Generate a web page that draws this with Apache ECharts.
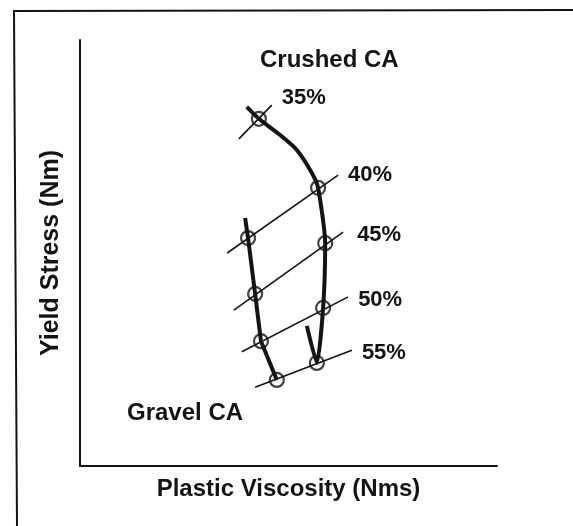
<!DOCTYPE html>
<html>
<head>
<meta charset="utf-8">
<script src="https://cdn.jsdelivr.net/npm/echarts@6/dist/echarts.min.js"></script>
<style>
  html, body { margin: 0; padding: 0; background: #fff; }
  #chart { width: 573px; height: 526px; }
</style>
</head>
<body>
<div id="chart"></div>
<script>
// values (arbitrary units, axes run 0..100)
const crushedLine = [[40.0, 84.3], [42.9, 81.5], [48.0, 77.7], [52.0, 74.2], [55.6, 68.8], [57.1, 65.3], [58.8, 52.3], [58.3, 37.1], [56.8, 24.2], [54.4, 32.9]];
const crushedPts = [[42.9, 81.5], [57.1, 65.3], [58.8, 52.3], [58.3, 37.1], [56.8, 24.2]];
const gravelLine = [[39.6, 58.2], [40.3, 53.5], [42.0, 40.4], [43.4, 29.3], [47.2, 20.2]];
const gravelPts = [[40.3, 53.5], [42.0, 40.4], [43.4, 29.3], [47.2, 20.2]];

const isoLabels = ['35%', '40%', '45%', '50%', '55%'];
const isoStart = [[38.1, 76.8], [35.3, 50.0], [36.9, 36.6], [38.8, 26.8], [42.0, 18.5]];
const isoEnd = [[46.0, 84.7], [61.9, 68.3], [63.1, 54.9], [64.3, 39.7], [65.2, 27.2]];

const labelOffsets = [[0, -7], [0, 0], [4, 3], [0, 3], [0, 3]];

const ink = '#141414';
const font = 'Arial, "Liberation Sans", Helvetica, sans-serif';

let chart = echarts.init(document.getElementById('chart'));

let series = [];

// thin lines of equal sand content, label at the upper end
for (let i = 0; i < isoLabels.length; i++) {
    series.push({
        type: 'line',
        silent: true,
        z: 2,
        symbol: 'none',
        lineStyle: { color: ink, width: 1.6 },
        endLabel: {
            show: true,
            formatter: isoLabels[i],
            distance: 10,
            offset: labelOffsets[i],
            color: ink,
            fontFamily: font,
            fontWeight: 'bold',
            fontSize: 22
        },
        data: [isoStart[i], isoEnd[i]]
    });
}

// thick curves
series.push({
    type: 'line',
    z: 3,
    symbol: 'none',
    smooth: 0.2,
    lineStyle: { color: ink, width: 4 },
    data: crushedLine
});
series.push({
    type: 'line',
    z: 3,
    symbol: 'none',
    lineStyle: { color: ink, width: 4 },
    data: gravelLine
});

// circle markers
[crushedPts, gravelPts].forEach(function (pts) {
    series.push({
        type: 'scatter',
        z: 4,
        symbol: 'circle',
        symbolSize: 14,
        itemStyle: { color: 'rgba(255,255,255,0)', borderColor: ink, borderWidth: 2.2 },
        data: pts
    });
});

let option = {
    backgroundColor: '#fff',
    animation: false,
    grid: { left: 80, right: 76, top: 40, bottom: 60 },
    xAxis: {
        type: 'value',
        min: 0,
        max: 100,
        name: 'Plastic Viscosity (Nms)',
        nameLocation: 'middle',
        nameGap: 11,
        nameTextStyle: { color: ink, fontFamily: font, fontWeight: 'bold', fontSize: 24, verticalAlign: 'top' },
        axisLine: { show: true, lineStyle: { color: ink, width: 2 } },
        axisTick: { show: false },
        axisLabel: { show: false },
        splitLine: { show: false }
    },
    yAxis: {
        type: 'value',
        min: 0,
        max: 100,
        name: 'Yield Stress (Nm)',
        nameLocation: 'middle',
        nameGap: 16,
        nameTextStyle: { color: ink, fontFamily: font, fontWeight: 'bold', fontSize: 25 },
        axisLine: { show: true, lineStyle: { color: ink, width: 2 } },
        axisTick: { show: false },
        axisLabel: { show: false },
        splitLine: { show: false }
    },
    graphic: [
        {
            type: 'polyline',
            shape: { points: [[17, 526], [14, 11], [573, 10]] },
            style: { stroke: ink, lineWidth: 2, fill: null }
        },
        {
            type: 'text',
            x: 260, y: 60,
            style: { text: 'Crushed CA', fill: ink, font: 'bold 24px ' + font, verticalAlign: 'middle' }
        },
        {
            type: 'text',
            x: 127, y: 413,
            style: { text: 'Gravel CA', fill: ink, font: 'bold 24px ' + font, verticalAlign: 'middle' }
        }
    ],
    series: series
};

chart.setOption(option);
</script>
</body>
</html>
